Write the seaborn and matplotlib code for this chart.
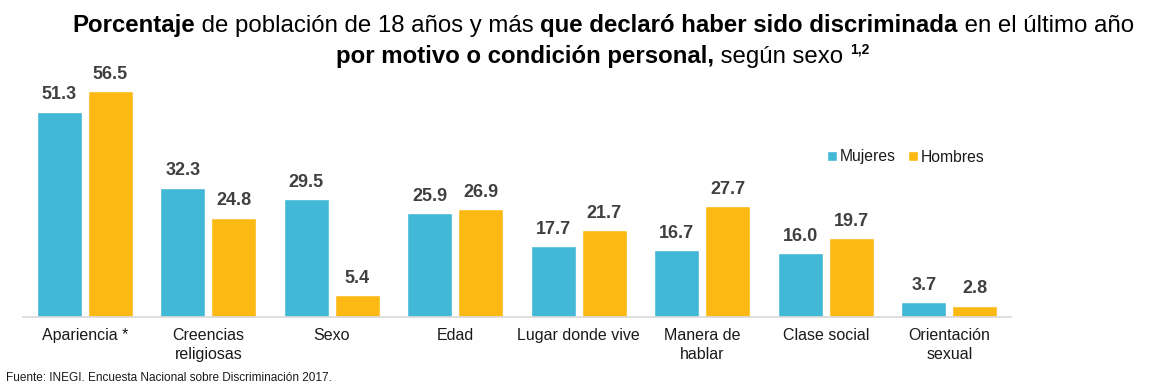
import matplotlib
matplotlib.use("Agg")
import matplotlib.pyplot as plt
import seaborn as sns
import pandas as pd
from matplotlib.transforms import IdentityTransform
from matplotlib.patches import Patch

categories = ["Apariencia *", "Creencias\nreligiosas", "Sexo", "Edad", "Lugar donde vive",
              "Manera de\nhablar", "Clase social", "Orientación\nsexual"]
mujeres = [51.3, 32.3, 29.5, 25.9, 17.7, 16.7, 16.0, 3.7]
hombres = [56.5, 24.8, 5.4, 26.9, 21.7, 27.7, 19.7, 2.8]
series = ["Mujeres", "Hombres"]
colors = {"Mujeres": "#41B8D5", "Hombres": "#FDB913"}

df = pd.DataFrame({
    "cat": categories * 2,
    "sexo": ["Mujeres"] * len(categories) + ["Hombres"] * len(categories),
    "val": mujeres + hombres,
})

sns.set_theme(style="white")
plt.rcParams["font.family"] = ["Liberation Sans", "DejaVu Sans"]

W, H = 1162, 387
fig = plt.figure(figsize=(W / 100, H / 100), dpi=100)
ax = fig.add_axes([23 / W, (H - 317) / H, 988 / W, (317 - 80) / H])

sns.barplot(data=df, x="cat", y="val", hue="sexo", hue_order=series, palette=colors,
            width=0.826, gap=0.12, ax=ax, legend=False, saturation=1)
ax.set_xlim(-0.5, 7.5)
ax.set_ylim(0, (317 - 80) / 4.0)
ax.set_xlabel("")
ax.set_ylabel("")
ax.set_yticks([])
for s in ["left", "right", "top"]:
    ax.spines[s].set_visible(False)
ax.spines["bottom"].set_color("#D9D9D9")
ax.spines["bottom"].set_linewidth(1.2)
ax.tick_params(axis="x", length=0, pad=8, labelsize=11.5, labelcolor="#1a1a1a")
for lab in ax.get_xticklabels():
    lab.set_linespacing(1.35)

for cont in ax.containers:
    ax.bar_label(cont, fmt="%.1f", padding=6, fontsize=13, fontweight="bold", color="#404040")

handles = [Patch(facecolor=colors[s], label=s) for s in series]
fig.legend(handles=handles, loc="center", bbox_to_anchor=(906 / W, (H - 157) / H), ncol=2,
           frameon=False, handlelength=0.6, handleheight=0.6, handletextpad=0.2,
           columnspacing=0.8, fontsize=11.3, labelcolor="#1a1a1a")

fig.text(6 / W, (H - 378) / H, "Fuente: INEGI. Encuesta Nacional sobre Discriminación 2017.",
         fontsize=8.5, color="#1a1a1a", va="center", ha="left")

renderer = fig.canvas.get_renderer()


def mixed_line(pieces, baseline_from_top, center_x):
    texts = []
    x = 0
    for s, weight, size, dy in pieces:
        t = fig.text(0, 0, s, fontsize=size, fontweight=weight, color="black",
                     transform=IdentityTransform(), va="baseline", ha="left")
        w = t.get_window_extent(renderer).width
        texts.append((t, x, dy))
        x += w
    start = center_x - x / 2
    for t, off, dy in texts:
        t.set_position((start + off, H - baseline_from_top + dy))


fs = 17.3
mixed_line([("Porcentaje", "bold", fs, 0),
            (" de población de 18 años y más ", "normal", fs, 0),
            ("que declaró haber sido discriminada", "bold", fs, 0),
            (" en el último año", "normal", fs, 0)], 32, 603)
mixed_line([("por motivo o condición personal,", "bold", fs, 0),
            (" según sexo ", "normal", fs, 0),
            ("1,2", "bold", 10, 10)], 63, 603)

fig.savefig("out.png", dpi=100, facecolor="white")
